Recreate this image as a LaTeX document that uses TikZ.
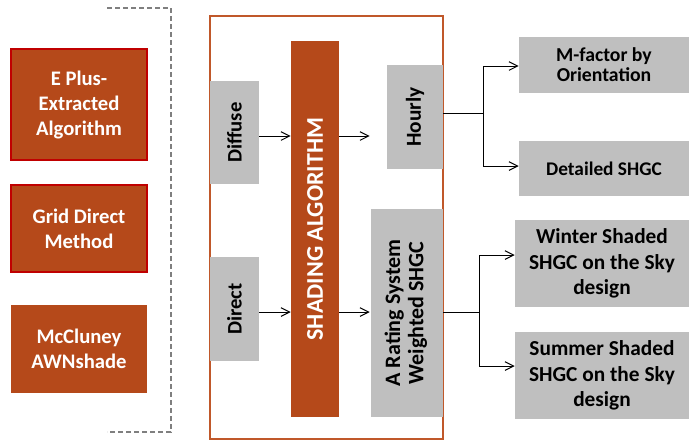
\documentclass[tikz,border=0pt]{standalone}
\usepackage{fontspec}
\setmainfont{Carlito}
\usetikzlibrary{arrows.meta}
\definecolor{rust}{HTML}{B5491A}
\definecolor{boxred}{HTML}{C00000}
\definecolor{framec}{HTML}{C0582A}
\definecolor{panel}{HTML}{BFBFBF}
\definecolor{dashc}{HTML}{7F7F7F}
\tikzset{
  px/.style={x=0.75pt,y=-0.75pt},
  method/.style={fill=rust,text=white,font=\bfseries\fontsize{15.5}{18.75}\selectfont,
    align=center,inner sep=0pt},
  redline/.style={draw=boxred,line width=1.5pt},
  grey/.style={fill=panel,text=black,align=center,inner sep=0pt},
  flow/.style={line width=0.75pt,-{Straight Barb[length=6.5pt,width=6.5pt]}},
  link/.style={line width=0.75pt},
}
\begin{document}
\begin{tikzpicture}[px]
\useasboundingbox (0,0) rectangle (689,440);

% dashed bracket grouping the methods
\draw[dashc,line width=0.9pt,dash pattern=on 3.75pt off 2.25pt]
  (107,8) -- (171,8) -- (171,432) -- (107,432);

% method boxes
\node[method,redline,minimum width=102pt,minimum height=83.5pt] (ep) at (79,104.5)
  {E Plus-\\Extracted\\Algorithm};
\node[method,redline,minimum width=102pt,minimum height=65.5pt] (gd) at (79,228.5)
  {Grid Direct\\Method};
\node[method,minimum width=102pt,minimum height=66pt] (mc) at (79,349)
  {McCluney\\AWNshade};

% frame around the shading model
\draw[framec,line width=2pt] (210,16) rectangle (443,439);

% inputs
\node[grey,minimum width=36.75pt,minimum height=77.25pt] (diff) at (234.5,132.5)
  {\rotatebox{90}{\bfseries\fontsize{15.5}{18}\selectfont Diffuse}};
\node[grey,minimum width=36.75pt,minimum height=78pt] (dir) at (234.5,309)
  {\rotatebox{90}{\bfseries\fontsize{15.5}{18}\selectfont Direct}};

% core algorithm
\node[fill=rust,inner sep=0pt,minimum width=36pt,minimum height=282pt] (sa) at (315,229)
  {\rotatebox{90}{\color{white}\bfseries\fontsize{18}{21}\selectfont SHADING ALGORITHM}};

% outputs inside the frame
\node[grey,minimum width=42pt,minimum height=78pt] (hr) at (415,117)
  {\rotatebox{90}{\bfseries\fontsize{16}{19}\selectfont Hourly}};
\node[grey,minimum width=54pt,minimum height=156pt] (ar) at (407,313)
  {\rotatebox{90}{\bfseries\fontsize{16.5}{17.5}\selectfont
    \begin{tabular}{@{}c@{}}A Rating System\\Weighted SHGC\end{tabular}}};

% results
\node[grey,font=\bfseries\fontsize{14.8}{15}\selectfont,minimum width=127.5pt,minimum height=42pt] (mf) at (604,65)
  {M-factor by\\Orientation};
\node[grey,font=\bfseries\fontsize{14.5}{15}\selectfont,minimum width=127.5pt,minimum height=41.25pt] (ds) at (604,168.5)
  {Detailed SHGC};
\node[grey,font=\bfseries\fontsize{16}{19.3}\selectfont,minimum width=130.5pt,minimum height=65.25pt] (wi) at (602,263.5)
  {Winter Shaded\\SHGC on the Sky\\design};
\node[grey,font=\bfseries\fontsize{16}{19.3}\selectfont,minimum width=130.5pt,minimum height=65.25pt] (su) at (602,375.5)
  {Summer Shaded\\SHGC on the Sky\\design};

% flow levels and branch points
\coordinate (r1) at (0,136);
\coordinate (r2) at (0,312);
\coordinate (j1) at (483,113);
\coordinate (j2) at (479,312);
\coordinate (t1) at (0,66);
\coordinate (t2) at (0,166);
\coordinate (t3) at (0,255);
\coordinate (t4) at (0,366);

\draw[flow] (diff.east |- r1) -- (sa.west |- r1);
\draw[flow] (dir.east |- r2) -- (sa.west |- r2);
\draw[flow,shorten >=12.75pt] (sa.east |- r1) -- (hr.west |- r1);
\draw[flow,shorten >=0.75pt] (sa.east |- r2) -- (ar.west |- r2);

\draw[link] (hr.east |- j1) -- (j1);
\draw[flow] (j1) |- (mf.west |- t1);
\draw[flow] (j1) |- (ds.west |- t2);
\draw[link] (ar.east |- j2) -- (j2);
\draw[flow] (j2) |- (wi.west |- t3);
\draw[flow] (j2) |- (su.west |- t4);
\end{tikzpicture}
\end{document}
